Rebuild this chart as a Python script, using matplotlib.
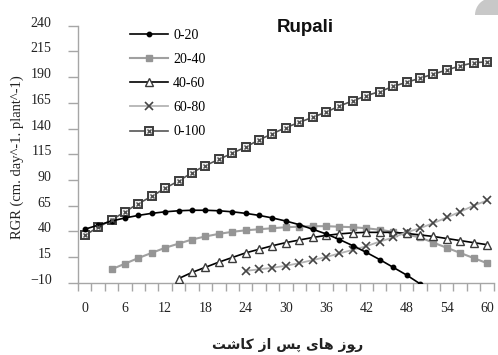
import numpy as np
import matplotlib
matplotlib.use("Agg")
import matplotlib.pyplot as plt
from matplotlib.lines import Line2D
from matplotlib.legend_handler import HandlerTuple
from matplotlib.patches import Wedge
import matplotlib.transforms as mtransforms

# data (days after planting, every 2 days)
days_0_20 = list(range(0, 53, 2))
rgr_0_20 = [42, 46, 50, 53, 55.5, 57.5, 59, 60, 60.5, 60.5, 60, 59, 57.5, 55.5,
            53, 50, 46.5, 42, 37.5, 32, 26, 19.5, 12.5, 5, -2.5, -11, -20]

days_20_40 = list(range(4, 61, 2))
rgr_20_40 = [3, 8.5, 14, 19, 24, 28, 32, 35, 37.5, 39.5, 41, 42, 43, 44, 44.5,
             45, 45, 44.5, 44, 43, 41.5, 39.5, 37, 34, 29, 24, 19, 14, 9]

days_40_60 = list(range(14, 61, 2))
rgr_40_60 = [-6, 0, 5, 10, 14.5, 19, 22.5, 26, 29, 31.5, 34, 36, 37.5, 38.5,
             39, 39, 39, 38, 36.5, 35, 33, 31, 29, 27]

days_60_80 = list(range(24, 61, 2))
rgr_60_80 = [1.5, 3, 4.5, 6.5, 9, 12, 15, 18.5, 22, 25.5, 30, 34, 39, 43, 48,
             53.5, 59, 65, 70]

days_0_100 = list(range(0, 61, 2))
rgr_0_100 = [36, 44, 51, 59, 67, 74, 82, 89, 97, 104, 110, 116, 122, 129, 135,
             141, 146, 151, 156, 162, 167, 172, 176, 181, 185, 189, 193, 197,
             201, 204, 205]

labels = ["0-20", "20-40", "40-60", "60-80", "0-100"]
x_ticks = list(range(0, 61, 6))
y_ticks = list(range(-10, 241, 25))

title = "Rupali"
ylabel = "RGR (cm. day^-1. plant^-1)"
# "روز های پس از کاشت" written in shaped presentation forms, visual order
xlabel = "\uFE96\uFEB7\uFE8E\uFB90 \uFEAF\uFE8D \uFEB2\uFB58 \uFEEF\uFE8E\uFEEB \uFEAF\uFEEE\uFEAD"

serif = "Liberation Serif"
axis_grey = "#a6a6a6"

# line / marker styles per series
styles = [
    dict(color="black", lw=1.2, marker="o", ms=3.2, mfc="black", mec="black"),
    dict(color="#a0a0a0", lw=1.5, marker="s", ms=4.5, mfc="#959595", mec="#959595"),
    dict(color="black", lw=1.2, marker="^", ms=6, mfc="white", mec="#3a3a3a", mew=1.0),
    dict(color="#b4b4b4", lw=1.3, marker="x", ms=5.5, mec="#454545", mew=1.2),
    dict(color="#555555", lw=1.2, marker="s", ms=5.8, mfc="#eeeeee", mec="#3c3c3c", mew=1.4),
]
inner_x = dict(ls="none", marker="x", ms=2.8, mec="#505050", mew=1.0)

fig = plt.figure(figsize=(4.98, 3.55), dpi=100)
ax = fig.add_axes([78 / 498, 72.3 / 355, (493.7 - 78) / 498, (282.7 - 25.8) / 355])

series = [(days_0_20, rgr_0_20), (days_20_40, rgr_20_40), (days_40_60, rgr_40_60),
          (days_60_80, rgr_60_80), (days_0_100, rgr_0_100)]
for (d, v), st, z in zip(series, styles, [4, 3, 3, 3, 3]):
    ax.plot(d, v, zorder=z, **st)
ax.plot(days_0_100, rgr_0_100, zorder=5, **inner_x)

ax.set_xlim(-1, 61)
ax.set_ylim(-10, 240)

ax.set_xticks(x_ticks)
ax.set_xticks(np.arange(-1, 62, 2), minor=True)
ax.set_yticks(y_ticks)
ax.tick_params(axis="x", which="major", length=0, pad=14, labelsize=10)
ax.tick_params(axis="x", which="minor", length=6, color=axis_grey, width=1)
ax.tick_params(axis="y", length=7, color=axis_grey, width=1, pad=12, labelsize=10)
for lab in ax.get_xticklabels() + ax.get_yticklabels():
    lab.set_family(serif)
    lab.set_color("#222222")
# y tick labels sit a little above their ticks in the original
shift = mtransforms.ScaledTranslation(0, 4 / 100, fig.dpi_scale_trans)
for lab in ax.get_yticklabels():
    lab.set_transform(lab.get_transform() + shift)

for side in ["top", "right"]:
    ax.spines[side].set_visible(False)
for side in ["left", "bottom"]:
    ax.spines[side].set_color(axis_grey)
    ax.spines[side].set_linewidth(1)

fig.text(17 / 498, 1 - 157 / 355, ylabel, rotation=90, ha="center", va="center",
         family=serif, fontsize=10.5, color="#222222")
fig.text(288 / 498, 1 - 345 / 355, xlabel, ha="center", va="center",
         family=["DejaVu Sans"], fontweight="bold", fontsize=10, color="#222222")
fig.text(305 / 498, 1 - 28 / 355, title, ha="center", va="center",
         family="Liberation Sans", fontweight="bold", fontsize=13.5, color="#111111")

# legend
h = [Line2D([], [], **st) for st in styles[:4]]
h.append((Line2D([], [], **styles[4]), Line2D([], [], **inner_x)))
leg = ax.legend(h, labels, loc="upper left", bbox_to_anchor=(130 / 498, 1 - 29 / 355),
                bbox_transform=fig.transFigure, frameon=False, borderpad=0,
                borderaxespad=0, handlelength=2.7, handletextpad=0.4,
                labelspacing=0.8, numpoints=1, prop={"family": serif, "size": 10},
                handler_map={tuple: HandlerTuple(ndivide=1, pad=0)})

# grey blob in the top right corner of the scan
fig.patches.append(Wedge((4.92, 3.40), 0.17, 0, 180, transform=fig.dpi_scale_trans,
                         facecolor="#c8c8c8", edgecolor="none"))

fig.savefig("out.png", dpi=100, facecolor="white")
